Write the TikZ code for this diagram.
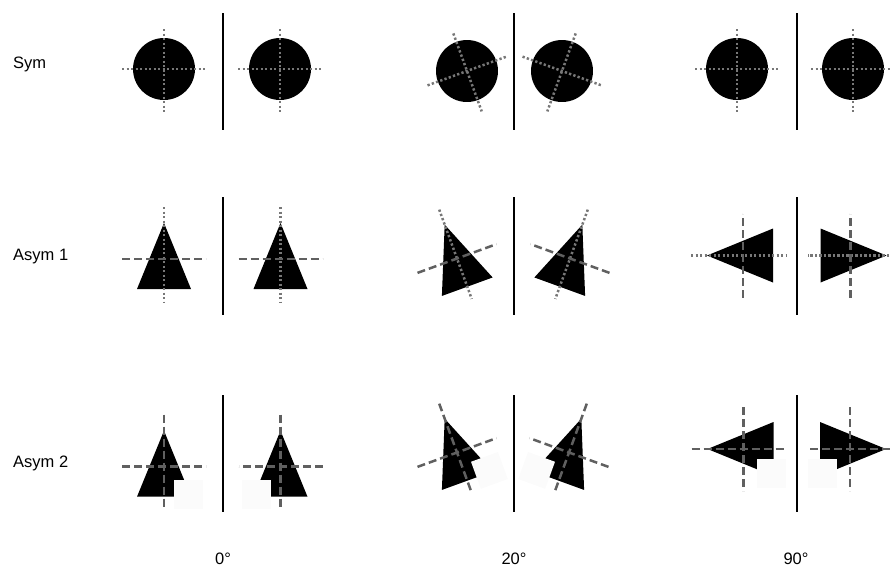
\documentclass[tikz,border=0pt]{standalone}
\usepackage{fontspec}
\setmainfont{Liberation Sans}
\definecolor{dotgray}{HTML}{777777}
\definecolor{dashgray}{HTML}{606060}
\definecolor{notchgray}{HTML}{FBFBFB}
\tikzset{
  dotline/.style={draw=dotgray, line width=2.5pt, dash pattern=on 2.3pt off 2.2pt},
  dashline/.style={draw=dashgray, line width=2.5pt, dash pattern=on 8pt off 4pt},
  divider/.style={draw=black, line width=1.2pt},
  lab/.style={font=\fontsize{16.5}{19}\selectfont, inner sep=0pt},
  notchfill/.style={fill=notchgray},
  shapefill/.style={fill=black}
}
\newcommand\mytri{\fill[shapefill] (0,-36) -- (27,30) -- (-27,30) -- cycle;}
\newcommand\mynotch{\fill[notchfill] (10,13.5) rectangle (38.7,42.3);}
\newcommand\mycirc{\fill[shapefill] (0,0) circle[radius=31];}
\newcommand\mycross[2]{\draw[#1] (0,-52) -- (0,43); \draw[#2] (-42,0) -- (42,0);}
\newcommand\mycirccross{\draw[dotline] (0,-40) -- (0,43); \draw[dotline] (-42,0) -- (42,0);}
\begin{document}
\begin{tikzpicture}[x=1pt,y=-1pt]
\useasboundingbox (0,0) rectangle (890,566);
% labels
\node[lab, anchor=base west] (lsym) at (13,68.5) {Sym};
\node[lab, anchor=base west] (lasym1) at (13,260) {Asym 1};
\node[lab, anchor=base west] (lasym2) at (13,467.5) {Asym 2};
\node[lab, anchor=base] (l0) at (223,564) {0°};
\node[lab, anchor=base] (l20) at (514,564) {20°};
\node[lab, anchor=base] (l90) at (796,564) {90°};
% dividers
\foreach \dx in {223,514,797}{
  \draw[divider] (\dx,13) -- (\dx,130);
  \draw[divider] (\dx,197) -- (\dx,315);
  \draw[divider] (\dx,395) -- (\dx,512);
}
% ---------- Row 1: Sym ----------
\begin{scope}[shift={(164,69)}] \mycirc \mycirccross \end{scope}
\begin{scope}[shift={(280,69)}] \mycirc \mycirccross \end{scope}
\begin{scope}[shift={(467,71)},rotate=20] \mycirc \mycirccross \end{scope}
\begin{scope}[shift={(562,71)},rotate=-20] \mycirc \mycirccross \end{scope}
\begin{scope}[shift={(737,69)}] \mycirc \mycirccross \end{scope}
\begin{scope}[shift={(853,69)}] \mycirc \mycirccross \end{scope}
% ---------- Row 2: Asym 1 ----------
\begin{scope}[shift={(164,259)}] \mytri \mycross{dotline}{dashline} \end{scope}
\begin{scope}[shift={(280.5,259)}] \mytri \mycross{dotline}{dashline} \end{scope}
\begin{scope}[shift={(457,258.5)},rotate=20] \mytri \mycross{dotline}{dashline} \end{scope}
\begin{scope}[shift={(570,258.5)},xscale=-1,rotate=20] \mytri \mycross{dotline}{dashline} \end{scope}
\begin{scope}[shift={(743,255.5)},rotate=90] \mytri \mycross{dotline}{dashline} \end{scope}
\begin{scope}[shift={(850.5,255.5)},xscale=-1,rotate=90] \mytri \mycross{dotline}{dashline} \end{scope}
% ---------- Row 3: Asym 2 ----------
\begin{scope}[shift={(164,466.7)}] \mytri \mynotch \mycross{dashline}{dashline} \end{scope}
\begin{scope}[shift={(280.5,466.7)},xscale=-1] \mytri \mynotch \mycross{dashline}{dashline} \end{scope}
\begin{scope}[shift={(457,452.5)},rotate=20] \mytri \mynotch \mycross{dashline}{dashline} \end{scope}
\begin{scope}[shift={(569,452.5)},xscale=-1,rotate=20] \mytri \mynotch \mycross{dashline}{dashline} \end{scope}
\begin{scope}[shift={(743.5,449)},yscale=-1,rotate=90] \mytri \mynotch \mycross{dashline}{dashline} \end{scope}
\begin{scope}[shift={(850,449)},rotate=-90] \mytri \mynotch \mycross{dashline}{dashline} \end{scope}
\end{tikzpicture}
\end{document}
